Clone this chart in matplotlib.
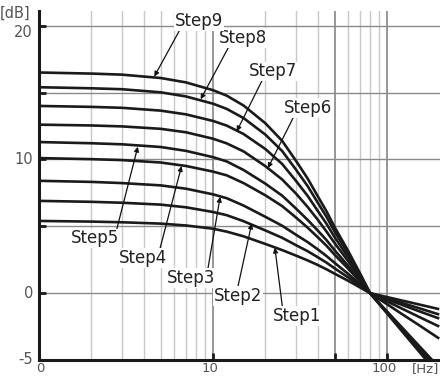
import numpy as np
import matplotlib
matplotlib.use("Agg")
import matplotlib.pyplot as plt

# frequency points [Hz] and level [dB] for each step
freqs = [1, 2, 3, 5, 7, 10, 12, 15, 20, 25, 30, 35, 40, 45, 50, 60, 70, 80, 100, 120, 150, 200]

step1 = [5.4, 5.35, 5.3, 5.2, 5.06, 4.82, 4.6, 4.25, 3.68, 3.22, 2.81, 2.45, 2.11, 1.78, 1.46, 0.92, 0.43, 0, -0.29, -0.53, -0.82, -1.2]
step2 = [6.9, 6.83, 6.76, 6.62, 6.42, 6.07, 5.83, 5.38, 4.69, 4.14, 3.59, 3.14, 2.69, 2.28, 1.86, 1.17, 0.55, 0, -0.39, -0.7, -1.09, -1.6]
step3 = [8.4, 8.32, 8.23, 8.06, 7.81, 7.39, 7.1, 6.55, 5.71, 5.04, 4.37, 3.82, 3.28, 2.77, 2.27, 1.43, 0.67, 0, -0.47, -0.84, -1.31, -1.9]
step4 = [10.1, 10.02, 9.95, 9.77, 9.51, 9.09, 8.81, 8.23, 7.32, 6.51, 5.66, 4.9, 4.19, 3.54, 2.88, 1.82, 0.86, 0, -0.61, -1.11, -1.72, -2.5]
step5 = [11.3, 11.21, 11.13, 10.93, 10.64, 10.17, 9.85, 9.21, 8.19, 7.29, 6.33, 5.48, 4.69, 3.96, 3.22, 2.03, 0.96, 0, -0.82, -1.5, -2.32, -3.4]
step6 = [12.6, 12.54, 12.47, 12.29, 12.03, 11.55, 11.2, 10.6, 9.5, 8.5, 7.45, 6.45, 5.5, 4.6, 3.75, 2.38, 1.13, 0, -1.36, -2.46, -3.82, -5.57]
step7 = [14.0, 13.93, 13.86, 13.65, 13.37, 12.88, 12.53, 11.9, 10.78, 9.66, 8.4, 7.28, 6.16, 5.18, 4.2, 2.66, 1.26, 0, -1.41, -2.55, -3.96, -5.77]
step8 = [15.4, 15.32, 15.25, 15.02, 14.71, 14.17, 13.78, 13.09, 11.86, 10.63, 9.24, 8.01, 6.78, 5.7, 4.62, 2.93, 1.39, 0, -1.46, -2.64, -4.1, -5.97]
step9 = [16.5, 16.42, 16.34, 16.09, 15.76, 15.18, 14.77, 14.03, 12.71, 11.39, 9.9, 8.58, 7.26, 6.11, 4.95, 3.14, 1.49, 0, -1.5, -2.73, -4.23, -6.17]

steps = [step1, step2, step3, step4, step5, step6, step7, step8, step9]
step_names = ["Step1", "Step2", "Step3", "Step4", "Step5", "Step6", "Step7", "Step8", "Step9"]

# where each callout arrow points (on the curve) and where its label sits
arrow_tips = [(22.7, 3.4), (16.7, 5.2), (11.0, 7.2), (6.6, 9.5), (3.7, 10.95),
              (20.7, 9.35), (13.7, 12.1), (8.5, 14.5), (4.6, 16.2)]
label_pos = [(30.4, -1.72), (13.9, -0.22), (7.47, 1.12), (3.96, 2.62), (2.1, 4.11),
             (35.2, 13.84), (22.1, 16.6), (14.9, 19.07), (8.31, 20.34)]
label_relpos = [(0.2, 1), (0.5, 1), (0.85, 1), (0.85, 1), (0.95, 1),
                (0.2, 0), (0.28, 0), (0.2, 0), (0.1, 0)]

y_labels = [(20, "20"), (10, "10"), (0, "0"), (-5, "-5")]
x_labels = [(1, "0"), (10, "10"), (100, "100")]

fig = plt.figure(figsize=(4.4, 3.76), dpi=100)
ax = fig.add_axes([39 / 440, 16 / 376, 401 / 440, 349 / 376])
ax.set_xscale("log")
ax.set_xlim(1, 202)
ax.set_ylim(-5, 21.1)

# grid: light minor lines, darker at 10 / 50 / 100 Hz
minor_x = [2, 3, 4, 5, 6, 7, 8, 9, 20, 30, 40, 60, 70, 80, 90]
for fx in minor_x:
    ax.axvline(fx, color="#c8c8c8", lw=1.0, zorder=1)
for fx in [10, 50, 100]:
    ax.axvline(fx, color="#7a7a7a", lw=1.1, zorder=1)
for gy in [0, 5, 10, 15, 20]:
    ax.axhline(gy, color="#8a8a8a", lw=1.0, zorder=1)

for vals in steps:
    ax.plot(freqs, vals, color="#1a1a1a", lw=1.9, zorder=3,
            solid_joinstyle="round", solid_capstyle="butt")

for name, tip, pos, rp in zip(step_names, arrow_tips, label_pos, label_relpos):
    ax.annotate(name, xy=tip, xytext=pos, ha="center", va="center",
                fontsize=12, color="#222222", zorder=5,
                bbox=dict(facecolor="white", edgecolor="none", pad=0.5),
                arrowprops=dict(arrowstyle="-|>", color="#111111", lw=0.9,
                                mutation_scale=7, shrinkA=0, shrinkB=0,
                                relpos=rp))

for s in ["top", "right"]:
    ax.spines[s].set_visible(False)
for s in ["left", "bottom"]:
    ax.spines[s].set_linewidth(2.2)
    ax.spines[s].set_color("#1a1a1a")
    ax.spines[s].set_zorder(6)

ax.set_xticks([10, 50, 100])
ax.set_xticks([], minor=True)
ax.set_yticks([0, 5, 10, 15, 20])
ax.tick_params(direction="in", length=5, width=2, color="#1a1a1a",
               labelbottom=False, labelleft=False)

ytrans = ax.get_yaxis_transform()
for yv, txt in y_labels:
    off = -0.5 if yv == 20 else 0
    ax.text(-0.015, yv + off, txt, transform=ytrans, ha="right", va="center",
            fontsize=10.5, color="#555555", clip_on=False)
ax.text(-0.022, 20.95, "[dB]", transform=ytrans, ha="right", va="center",
        fontsize=10.5, color="#555555", clip_on=False)

# bottom labels sit just under the axis line, squeezed against the image edge
xtrans = ax.get_xaxis_transform()
for xv, txt in x_labels:
    ax.text(xv * (1.02 if xv == 1 else 0.96), -0.006, txt, transform=xtrans,
            ha="center", va="top", fontsize=9.5, color="#555555", clip_on=False)
ax.text(167, -0.006, "[Hz]", transform=xtrans, ha="center", va="top",
        fontsize=9.5, color="#555555", clip_on=False)

fig.savefig("out.png", dpi=100, facecolor="white")
